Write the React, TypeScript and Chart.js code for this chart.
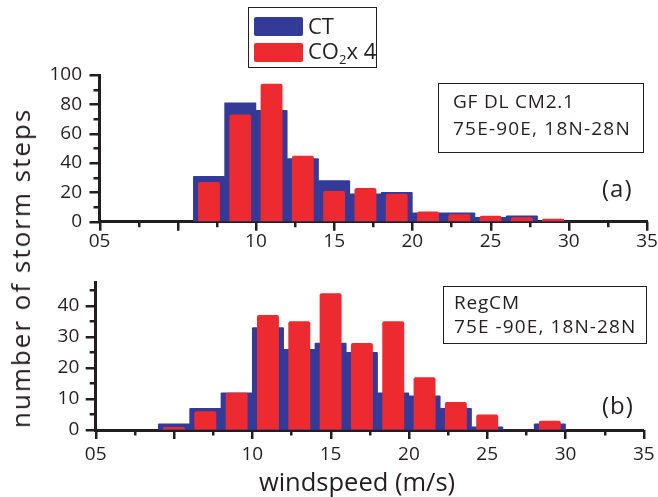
import React, { useEffect, useRef } from 'react';
import { Chart, registerables } from 'chart.js';

Chart.register(...registerables);

// Storm-step counts per 2 m/s wind-speed bin (bin centres in m/s)
const gfdlBins = [7, 9, 11, 13, 15, 17, 19, 21, 23, 25, 27, 29];
const gfdlCT = [31, 81, 76, 43, 28, 19, 20, 6, 6, 3, 4, 0];
const gfdlCO2 = [27, 73, 94, 45, 21, 23, 19, 7, 5, 4, 3, 2];

const regcmBins = [5, 7, 9, 11, 13, 15, 17, 19, 21, 23, 25, 27, 29];
const regcmCT = [2, 7, 12, 33, 26, 28, 25, 12, 11, 7, 1, 0, 2];
const regcmCO2 = [1, 6, 12, 37, 35, 44, 28, 35, 17, 9, 5, 0, 3];

// Axis ticks and their printed labels
const xTickValues = [0, 2.5, 5, 7.5, 10, 12.5, 15, 17.5, 20, 22.5, 25, 27.5, 30, 32.5, 35];
const xTickLabels = ['05', '', '', '', '10', '', '15', '', '20', '', '25', '', '30', '', '35'];
const gfdlYTicks = [0, 10, 20, 30, 40, 50, 60, 70, 80, 90, 100];
const gfdlYLabels = ['0', '', '20', '', '40', '', '60', '', '80', '', '100'];
const regcmYTicks = [0, 5, 10, 15, 20, 25, 30, 35, 40, 45];
const regcmYLabels = ['0', '', '10', '', '20', '', '30', '', '40', ''];

const INK = '#231f20';
const BLUE = '#343a97';
const RED = '#ec2a30';
const FONT = '"Open Sans", sans-serif';
const W = 658;
const H = 497;
const X_AXIS_H = 45;

// Outward tick marks, longer on major ticks
function makeTickMarks(yMajor: number[]) {
  return {
    id: 'tickMarks',
    afterDraw(chart: any) {
      const { ctx, chartArea } = chart;
      const xs = chart.scales.x;
      const ys = chart.scales.y;
      ctx.save();
      ctx.strokeStyle = INK;
      ctx.lineWidth = 2.5;
      ctx.beginPath();
      for (const t of xs.ticks) {
        const px = Math.round(xs.getPixelForValue(t.value)) + 0.25;
        const len = t.value % 5 === 0 ? 9 : 5.5;
        ctx.moveTo(px, chartArea.bottom);
        ctx.lineTo(px, chartArea.bottom + len);
      }
      for (const t of ys.ticks) {
        const py = Math.round(ys.getPixelForValue(t.value)) + 0.25;
        const len = yMajor.indexOf(t.value) >= 0 ? 10 : 6;
        ctx.moveTo(chartArea.left, py);
        ctx.lineTo(chartArea.left - len, py);
      }
      ctx.stroke();
      ctx.restore();
    },
  };
}

type PanelProps = {
  bins: number[];
  ct: number[];
  co2: number[];
  yTicks: number[];
  yLabels: string[];
  yMax: number;
  area: { left: number; top: number; right: number; bottom: number };
  yPad: number;
  xPad: number;
};

function Panel({ bins, ct, co2, yTicks, yLabels, yMax, area, yPad, xPad }: PanelProps) {
  const ref = useRef<HTMLCanvasElement>(null);

  useEffect(() => {
    const tickFont = { family: FONT, size: 19 };
    const yMajor = yTicks.filter((_, i) => yLabels[i] !== '');
    const chart = new Chart(ref.current as HTMLCanvasElement, {
      type: 'bar',
      data: {
        datasets: [
          {
            label: 'CT',
            data: bins.map((b, i) => ({ x: b, y: ct[i] })),
            backgroundColor: BLUE,
            grouped: false,
            barPercentage: 1,
            categoryPercentage: 1,
            borderRadius: 1,
            order: 2,
          },
          {
            label: 'CO2 x 4',
            data: bins.map((b, i) => ({ x: b, y: co2[i] })),
            backgroundColor: RED,
            grouped: false,
            barPercentage: 0.7,
            categoryPercentage: 1,
            borderRadius: 2,
            order: 1,
          },
        ],
      } as any,
      options: {
        responsive: false,
        animation: false,
        devicePixelRatio: 1,
        layout: {
          padding: {
            left: 0,
            top: area.top,
            right: W - area.right,
            bottom: H - area.bottom - X_AXIS_H,
          },
        },
        plugins: {
          legend: { display: false },
          tooltip: { enabled: false },
        },
        scales: {
          x: {
            type: 'linear',
            min: 0,
            max: 35,
            offset: false,
            z: 1,
            grid: { display: true, drawOnChartArea: false, drawTicks: false },
            border: { display: true, color: INK, width: 3 },
            afterBuildTicks: (s: any) => {
              s.ticks = xTickValues.map((v) => ({ value: v }));
            },
            afterFit: (s: any) => {
              s.height = X_AXIS_H;
              // end labels may hang past the plot edges
              s.paddingLeft = 0;
              s.paddingRight = 0;
            },
            ticks: {
              autoSkip: false,
              maxRotation: 0,
              padding: xPad,
              color: INK,
              font: tickFont,
              callback: (_v: any, i: number) => xTickLabels[i],
            },
          },
          y: {
            type: 'linear',
            min: 0,
            max: yMax,
            z: 1,
            grid: { display: true, drawOnChartArea: false, drawTicks: false },
            border: { display: true, color: INK, width: 3 },
            afterBuildTicks: (s: any) => {
              s.ticks = yTicks.map((v) => ({ value: v }));
            },
            afterFit: (s: any) => {
              s.width = area.left;
              s.paddingTop = 0;
              s.paddingBottom = 0;
            },
            ticks: {
              autoSkip: false,
              padding: yPad,
              color: INK,
              font: tickFont,
              callback: (_v: any, i: number) => yLabels[i],
            },
          },
        },
      } as any,
      plugins: [makeTickMarks(yMajor)],
    });
    return () => chart.destroy();
  }, []);

  return (
    <canvas
      ref={ref}
      width={W}
      height={H}
      style={{ position: 'absolute', left: 0, top: 0, width: W, height: H }}
    />
  );
}

// Text placed by the top of its capitals
function Text({
  x,
  capTop,
  size,
  spacing = 0,
  children,
}: {
  x: number;
  capTop: number;
  size: number;
  spacing?: number;
  children: React.ReactNode;
}) {
  return (
    <div
      style={{
        position: 'absolute',
        left: x,
        top: capTop - 0.174 * size,
        fontSize: size,
        lineHeight: `${size}px`,
        letterSpacing: spacing,
        whiteSpace: 'nowrap',
      }}
    >
      {children}
    </div>
  );
}

function Box({ left, top, right, bottom }: { left: number; top: number; right: number; bottom: number }) {
  return (
    <div
      style={{
        position: 'absolute',
        left,
        top,
        width: right - left,
        height: bottom - top,
        border: `1.5px solid ${INK}`,
        boxSizing: 'border-box',
      }}
    />
  );
}

export default function App() {
  return (
    <div
      style={{
        position: 'absolute',
        left: 0,
        top: 0,
        width: W,
        height: H,
        background: '#fff',
        fontFamily: FONT,
        color: INK,
        overflow: 'hidden',
      }}
    >
      <Panel
        bins={gfdlBins}
        ct={gfdlCT}
        co2={gfdlCO2}
        yTicks={gfdlYTicks}
        yLabels={gfdlYLabels}
        yMax={100}
        area={{ left: 99.5, top: 75, right: 647, bottom: 221.7 }}
        yPad={17.5}
        xPad={8}
      />
      <Panel
        bins={regcmBins}
        ct={regcmCT}
        co2={regcmCO2}
        yTicks={regcmYTicks}
        yLabels={regcmYLabels}
        yMax={47.5}
        area={{ left: 95.7, top: 282.5, right: 643.8, bottom: 430 }}
        yPad={16.4}
        xPad={13}
      />

      {/* legend */}
      <Box left={248} top={7} right={377} bottom={68} />
      <div style={{ position: 'absolute', left: 254, top: 17, width: 49, height: 19, background: BLUE, borderRadius: 2 }} />
      <div style={{ position: 'absolute', left: 254, top: 43, width: 49, height: 19, background: RED, borderRadius: 2 }} />
      <Text x={308} capTop={17.5} size={22}>CT</Text>
      <Text x={308} capTop={42.7} size={22}>
        CO<sub style={{ fontSize: 13, verticalAlign: '-5px', lineHeight: 0 }}>2</sub>x 4
      </Text>

      {/* panel annotations */}
      <Box left={438} top={83} right={644} bottom={153} />
      <Text x={453} capTop={95} size={19} spacing={0.8}>GF DL CM2.1</Text>
      <Text x={453} capTop={122.7} size={19} spacing={1.2}>75E-90E, 18N-28N</Text>
      <Text x={602} capTop={180} size={24} spacing={1}>(a)</Text>

      <Box left={442.5} top={286} right={647} bottom={344} />
      <Text x={454} capTop={296.7} size={19} spacing={0.8}>RegCM</Text>
      <Text x={454} capTop={320} size={19} spacing={1.1}>75E -90E, 18N-28N</Text>
      <Text x={602} capTop={397} size={24} spacing={1}>(b)</Text>

      {/* axis titles */}
      <div
        style={{
          position: 'absolute',
          left: 357,
          top: 481,
          transform: 'translate(-50%, -50%)',
          fontSize: 25.5,
          lineHeight: '26px',
          whiteSpace: 'nowrap',
        }}
      >
        windspeed (m/s)
      </div>
      <div
        style={{
          position: 'absolute',
          left: 20,
          top: 268,
          transform: 'translate(-50%, -50%) rotate(-90deg)',
          fontSize: 26,
          lineHeight: '26px',
          letterSpacing: 2,
          whiteSpace: 'nowrap',
        }}
      >
        number of storm steps
      </div>
    </div>
  );
}
